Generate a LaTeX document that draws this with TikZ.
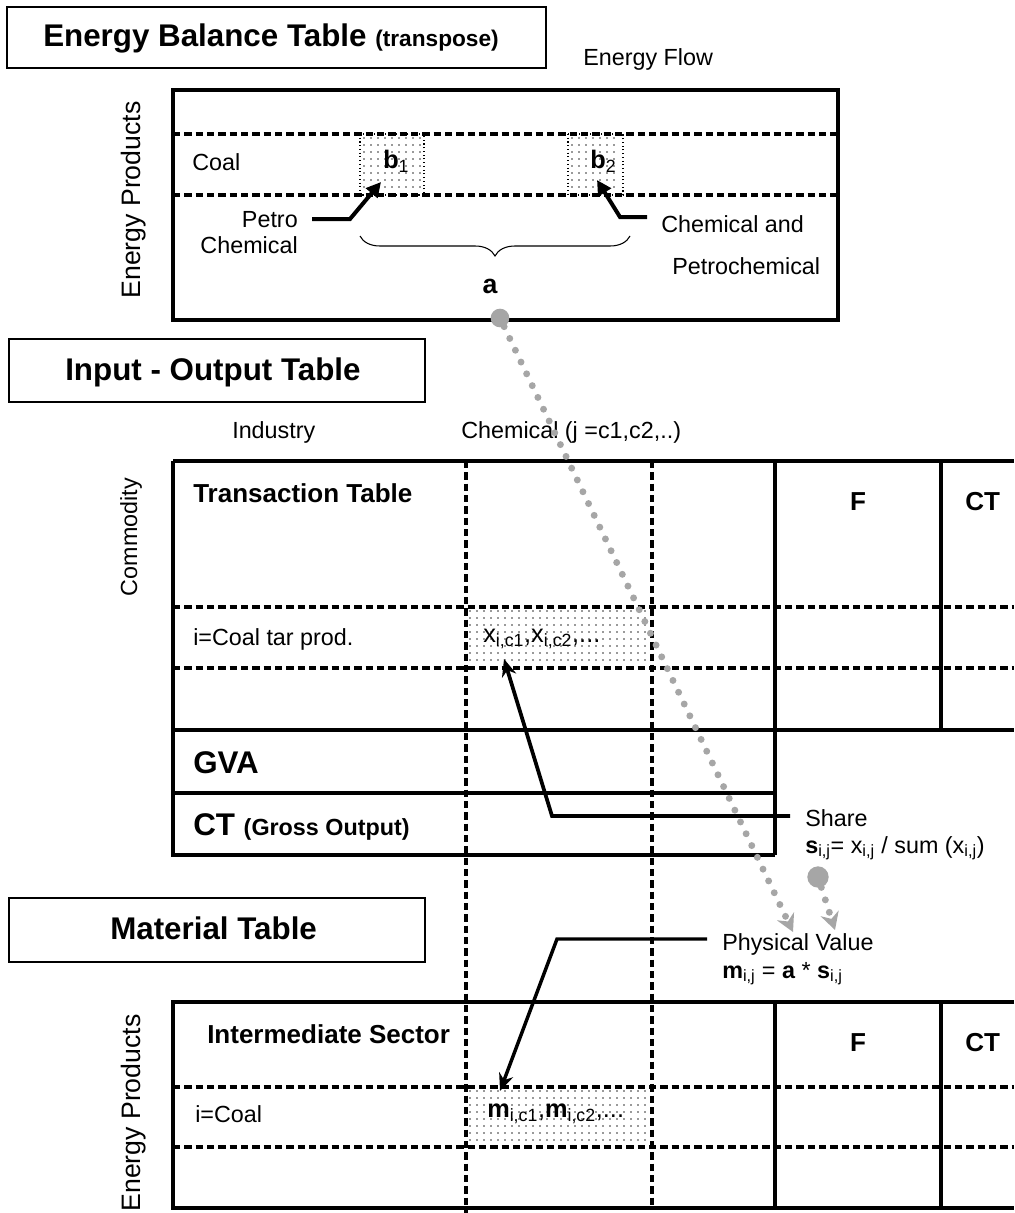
\documentclass[tikz,border=0pt]{standalone}
\usepackage{fontspec}
\setmainfont{Liberation Sans}
\usetikzlibrary{arrows.meta,decorations.pathreplacing}
\begin{document}
\begin{tikzpicture}[x=0.75pt,y=-0.75pt,
  tbl/.style={line width=2.5pt},
  dsh/.style={line width=2.3pt,dash pattern=on 5.5pt off 3pt},
  titlebox/.style={line width=1.1pt},
  lbl/.style={anchor=base west,inner sep=0pt,font=\fontsize{17.5}{20}\selectfont},
  ttl/.style={anchor=base west,inner sep=0pt,font=\fontsize{23.5}{26}\selectfont\bfseries},
  hdr/.style={anchor=base west,inner sep=0pt,font=\fontsize{19.5}{22}\selectfont\bfseries},
  rot/.style={anchor=base,rotate=90,inner sep=0pt,font=\fontsize{20}{22}\selectfont},
  blk/.style={line width=3pt,-{Triangle[length=11pt,width=11pt]}},
  shr/.style={line width=2.8pt,-{Stealth[length=13pt,width=11pt]}},
  gry/.style={gray!70,line width=5.2pt,line cap=round,dash pattern=on 0pt off 9.8pt,-{Stealth[length=13pt,width=14pt]}},
  gdot/.style={circle,fill=gray!70,inner sep=0pt},
  celldot/.style={fill=black!80},
]
\useasboundingbox (0,0) rectangle (1014,1213);

% ---------- dotted cells ----------
\draw[dotted,line width=0.8pt] (360,134) rectangle (424,195);
\foreach \xx in {364,371,...,420} \foreach \yy in {138,145,...,192} \fill[celldot] (\xx,\yy) circle (0.65pt);
\draw[dotted,line width=0.8pt] (568,134) rectangle (623,195);
\foreach \xx in {572,579,...,620} \foreach \yy in {138,145,...,192} \fill[celldot] (\xx,\yy) circle (0.65pt);
\foreach \xx in {470,477,...,648} \foreach \yy in {611,618,...,665} \fill[celldot] (\xx,\yy) circle (0.65pt);
\foreach \xx in {470,477,...,648} \foreach \yy in {1091,1098,...,1144} \fill[celldot] (\xx,\yy) circle (0.65pt);

% ---------- title boxes ----------
\draw[titlebox] (7,7) rectangle (546,68);
\draw[titlebox] (9,339) rectangle (425,402);
\draw[titlebox] (9,898) rectangle (425,962);
\node[ttl] (ebt) at (43,47) {Energy Balance Table {\fontsize{17}{18}\selectfont(transpose)}};
\node[ttl] (iot) at (65,380) {Input - Output Table};
\node[ttl] (mt) at (110,939) {Material Table};

% ---------- energy balance table ----------
\draw[tbl] (173,90) rectangle (838,320);
\draw[dsh] (173,134) -- (838,134);
\draw[dsh] (173,195) -- (838,195);
\node[lbl] (eflow) at (583,66) {Energy Flow};
\node[rot] (ep1) at (140,200) {Energy Products};
\node[lbl] (coal) at (192,170) {Coal};
\node[anchor=base west,inner sep=0pt,font=\fontsize{19}{20}\selectfont] (b1) at (383,168) {\textbf{b}\textsubscript{1}};
\node[anchor=base west,inner sep=0pt,font=\fontsize{19}{20}\selectfont] (b2) at (590,168) {\textbf{b}\textsubscript{2}};
\node[lbl,anchor=base east] (petro) at (298,227) {Petro};
\node[lbl,anchor=base east] (petchem) at (298,253) {Chemical};
\node[lbl] (chemand) at (661,232) {Chemical and};
\node[lbl] (petrochem) at (672,274) {Petrochemical};
\draw[line width=0.8pt,decorate,decoration={brace,mirror,amplitude=15pt}] (360,236) -- (630,236);
\node[anchor=base,inner sep=0pt,font=\fontsize{20}{22}\selectfont\bfseries] (a) at (490,293) {a};

% ---------- input-output table ----------
\node[lbl] (industry) at (232,438) {Industry};
\node[lbl] (chemj) at (461,438) {Chemical (j =c1,c2,..)};
\node[rot,font=\fontsize{17.5}{20}\selectfont] (commodity) at (137,537) {Commodity};
\draw[tbl] (173,461) -- (1014,461);
\draw[tbl] (173,461) -- (173,855) -- (775,855);
\draw[tbl] (173,730) -- (1014,730);
\draw[tbl] (173,793) -- (775,793);
\draw[tbl] (775,461) -- (775,855);
\draw[tbl] (941,461) -- (941,730);
\draw[dsh] (173,607) -- (1014,607);
\draw[dsh] (173,668) -- (1014,668);
\draw[dsh] (466,461) -- (466,1213);
\draw[dsh] (652,461) -- (652,1205);
\node[hdr] (trans) at (193,502) {Transaction Table};
\node[hdr,anchor=base] (F1) at (858,510) {F};
\node[hdr] (CT1) at (965,510) {CT};
\node[lbl] (coaltar) at (193,645) {i=Coal tar prod.};
\node[lbl,font=\fontsize{19}{20}\selectfont] (xcell) at (483,642) {x\textsubscript{i,c1},x\textsubscript{i,c2},...};
\node[ttl] (gva) at (193,773) {GVA};
\node[ttl] (ct) at (193,835) {CT {\fontsize{17.5}{18}\selectfont(Gross Output)}};
\node[lbl] (share) at (805,826) {Share};
\node[lbl] (sform) at (805,853) {\textbf{s}\textsubscript{i,j}= x\textsubscript{i,j} / sum (x\textsubscript{i,j})};

% ---------- material table ----------
\draw[tbl] (1014,1002) -- (173,1002) -- (173,1208) -- (1014,1208);
\draw[tbl] (775,1002) -- (775,1208);
\draw[tbl] (941,1002) -- (941,1208);
\draw[dsh] (173,1087) -- (1014,1087);
\draw[dsh] (173,1147) -- (1014,1147);
\node[rot] (ep2) at (140,1113) {Energy Products};
\node[hdr] (inter) at (207,1043) {Intermediate Sector};
\node[hdr,anchor=base] (F2) at (858,1051) {F};
\node[hdr] (CT2) at (965,1051) {CT};
\node[lbl] (icoal) at (195,1122) {i=Coal};
\node[lbl,font=\fontsize{19}{20}\selectfont] (mcell) at (487,1117) {\textbf{m}\textsubscript{i,c1},\textbf{m}\textsubscript{i,c2},...};
\node[lbl] (phys) at (722,950) {Physical Value};
\node[lbl] (mform) at (722,978) {\textbf{m}\textsubscript{i,j} = \textbf{a} * \textbf{s}\textsubscript{i,j}};

% ---------- black arrows ----------
\coordinate (petA) at (312,219);
\coordinate (petB) at (350,219);
\coordinate (b1tip) at (381,182);
\draw[blk] (petA) -- (petB) -- (b1tip);
\coordinate (chA) at (647,217);
\coordinate (chB) at (620,217);
\coordinate (b2tip) at (597,180);
\draw[blk] (chA) -- (chB) -- (b2tip);
\coordinate (shA) at (790,816);
\coordinate (shB) at (552,816);
\coordinate (xtip) at (504,659);
\draw[shr] (shA) -- (shB) -- (xtip);
\coordinate (phA) at (707,939);
\coordinate (phB) at (557,939);
\coordinate (mtip) at (500,1091);
\draw[shr,line width=2.6pt] (phA) -- (phB) -- (mtip);

% ---------- grey dotted arrows ----------
\node[gdot,minimum size=14pt] (dotA) at (500,318) {};
\node[gdot,minimum size=16pt] (dotS) at (818,877) {};
\coordinate (gtipA) at (793,932);
\coordinate (gtipS) at (835,930);
\draw[gry] (dotA) -- (gtipA);
\draw[gry] (dotS) -- (gtipS);
\end{tikzpicture}
\end{document}
